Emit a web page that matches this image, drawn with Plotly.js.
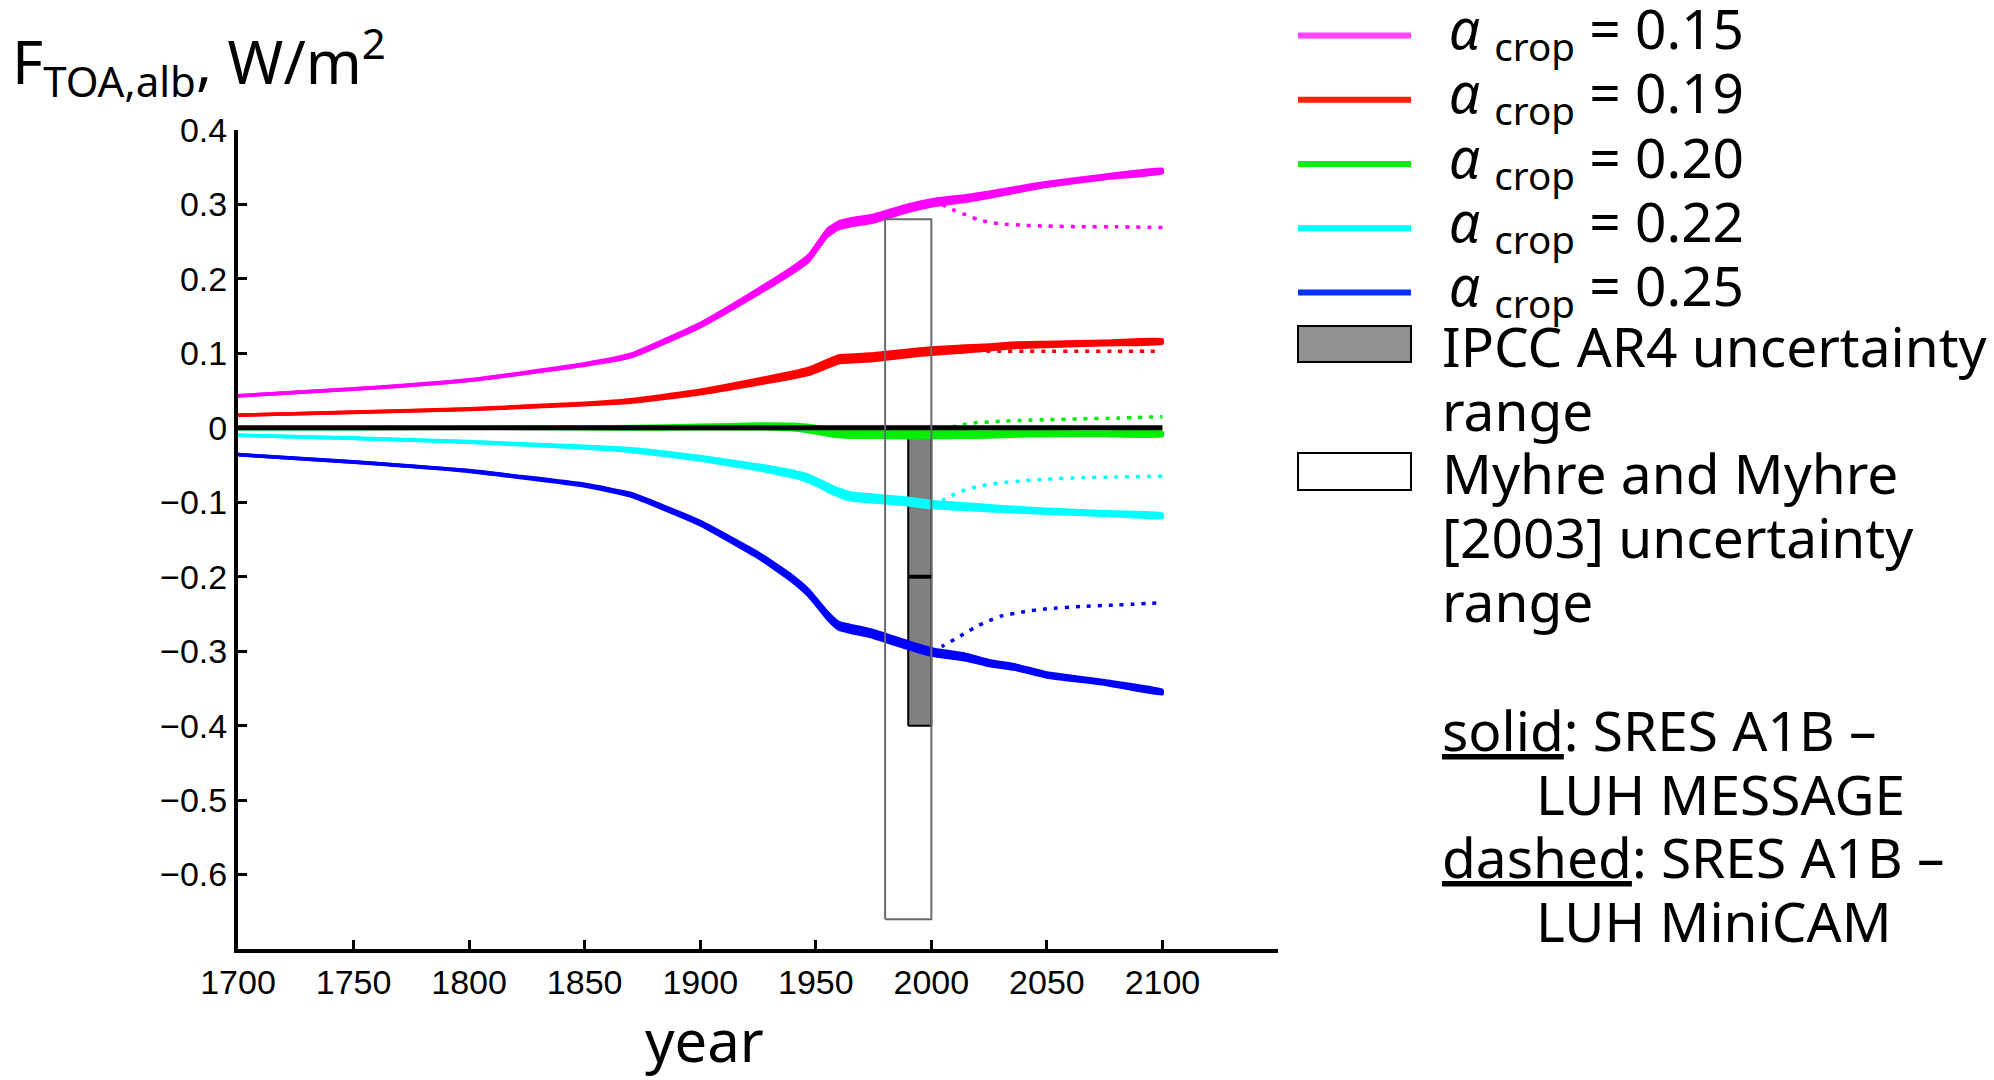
<!DOCTYPE html>
<html><head><meta charset="utf-8">
<script src="https://cdn.plot.ly/plotly-3.0.1.min.js"></script>
<style>html,body{margin:0;padding:0;background:#fff;}</style>
</head><body><div id="chart" style="width:1994px;height:1080px;"></div>
<script>
// ---------------- data ----------------
const solidYears = [1700, 1750, 1800, 1850, 1870, 1900, 1925, 1940, 1947, 1955, 1960, 1965, 1975, 1990, 2000, 2015, 2025, 2037, 2050, 2075, 2100];
const solid015 = [0.043, 0.052, 0.064, 0.085, 0.097, 0.138, 0.183, 0.212, 0.228, 0.262, 0.272, 0.276, 0.281, 0.295, 0.302, 0.308, 0.313, 0.320, 0.327, 0.337, 0.345];
const solid019 = [0.017, 0.021, 0.025, 0.032, 0.036, 0.048, 0.062, 0.071, 0.076, 0.086, 0.092, 0.093, 0.095, 0.100, 0.103, 0.106, 0.108, 0.111, 0.112, 0.114, 0.116];
const solid020 = [-0.001, -0.001, 0.000, 0.000, 0.000, 0.001, 0.002, 0.001, -0.001, -0.005, -0.007, -0.008, -0.008, -0.009, -0.009, -0.009, -0.009, -0.008, -0.008, -0.008, -0.008];
const solid022 = [-0.010, -0.014, -0.019, -0.026, -0.030, -0.041, -0.053, -0.062, -0.068, -0.080, -0.087, -0.092, -0.095, -0.099, -0.103, -0.106, -0.108, -0.110, -0.112, -0.115, -0.118];
const solid025 = [-0.036, -0.046, -0.058, -0.077, -0.090, -0.128, -0.171, -0.203, -0.222, -0.252, -0.266, -0.270, -0.277, -0.292, -0.301, -0.308, -0.316, -0.322, -0.332, -0.342, -0.355];
// half-spread of the ensemble of runs around each solid curve (W/m2)
const ensembleSpread = [0.0008, 0.001, 0.0012, 0.0018, 0.0024, 0.003, 0.0038, 0.0044, 0.0048, 0.0052, 0.0052, 0.0052, 0.0052, 0.005, 0.0048, 0.0044, 0.004, 0.0036, 0.0033, 0.003, 0.003];

const dashYears = [2000, 2005, 2010, 2015, 2020, 2025, 2030, 2040, 2050, 2065, 2080, 2100];
const dash015 = [0.302, 0.299, 0.292, 0.286, 0.280, 0.276, 0.274, 0.272, 0.271, 0.270, 0.270, 0.269];
const dash019 = [0.103, 0.103, 0.104, 0.104, 0.104, 0.103, 0.103, 0.103, 0.103, 0.103, 0.103, 0.103];
const dash020 = [-0.009, -0.004, 0.002, 0.005, 0.007, 0.008, 0.009, 0.010, 0.011, 0.012, 0.013, 0.015];
const dash022 = [-0.103, -0.097, -0.089, -0.083, -0.079, -0.076, -0.074, -0.071, -0.069, -0.067, -0.066, -0.065];
const dash025 = [-0.301, -0.293, -0.284, -0.275, -0.266, -0.259, -0.253, -0.247, -0.243, -0.240, -0.238, -0.235];

const zeroYears = [1700, 2100];
const zeroValues = [0, 0];

const ipccYears = [1990, 2000];
const ipccRange = [-0.4, 0.0];
const ipccBest = -0.2;
const myhreYears = [1980, 2000];
const myhreRange = [-0.66, 0.28];

const albedoLabels = ['0.15', '0.19', '0.20', '0.22', '0.25'];
const xTickVals = [1700, 1750, 1800, 1850, 1900, 1950, 2000, 2050, 2100];
const xTickText = ['1700', '1750', '1800', '1850', '1900', '1950', '2000', '2050', '2100'];
const yTickVals = [-0.6, -0.5, -0.4, -0.3, -0.2, -0.1, 0, 0.1, 0.2, 0.3, 0.4];
const yTickText = ['\u22120.6', '\u22120.5', '\u22120.4', '\u22120.3', '\u22120.2', '\u22120.1', '0', '0.1', '0.2', '0.3', '0.4'];

// ---------------- styles ----------------
const plotColors = ['#ff00ff', '#ff0000', '#00ee00', '#00ffff', '#0000ff'];
const legendColors = ['#ff44ff', '#ff2200', '#11ee11', '#00ffff', '#0033ff'];
const solidSeries = [solid015, solid019, solid020, solid022, solid025];
const dashSeries = [dash015, dash019, dash020, dash022, dash025];

const traces = [];
// IPCC fill (under the curves)
traces.push({
  x: [ipccYears[0], ipccYears[1], ipccYears[1], ipccYears[0], ipccYears[0]],
  y: [ipccRange[0], ipccRange[0], ipccRange[1], ipccRange[1], ipccRange[0]],
  mode: 'lines', fill: 'toself', fillcolor: '#808080',
  line: {color: '#000', width: 2}, hoverinfo: 'skip'
});
// solid ensembles: band of runs + central run
solidSeries.forEach((ys, i) => {
  const upper = ys.map((v, k) => v + ensembleSpread[k]);
  const lower = ys.map((v, k) => v - ensembleSpread[k]);
  traces.push({
    x: solidYears.concat(solidYears.slice().reverse()),
    y: upper.concat(lower.slice().reverse()),
    mode: 'lines', fill: 'toself', fillcolor: plotColors[i],
    line: {color: plotColors[i], width: 2.5, shape: 'spline', smoothing: 0.4}, hoverinfo: 'skip'
  });
  traces.push({
    x: solidYears, y: ys, mode: 'lines',
    line: {color: plotColors[i], width: 3.5, shape: 'spline', smoothing: 0.5}, hoverinfo: 'skip'
  });
});
dashSeries.forEach((ys, i) => {
  traces.push({
    x: dashYears, y: ys, mode: 'lines',
    line: {color: plotColors[i], width: 3.5, dash: '4px,7px', shape: 'spline', smoothing: 0.5}, hoverinfo: 'skip'
  });
});
traces.push({x: zeroYears, y: zeroValues, mode: 'lines', line: {color: '#000', width: 5}, hoverinfo: 'skip'});
// Myhre outline
traces.push({
  x: [myhreYears[0], myhreYears[1], myhreYears[1], myhreYears[0], myhreYears[0]],
  y: [myhreRange[0], myhreRange[0], myhreRange[1], myhreRange[1], myhreRange[0]],
  mode: 'lines', line: {color: '#6a6a6a', width: 2}, hoverinfo: 'skip'
});
// IPCC central estimate
traces.push({x: ipccYears, y: [ipccBest, ipccBest], mode: 'lines', line: {color: '#000', width: 4}, hoverinfo: 'skip'});

// ---------------- layout helpers ----------------
const L = 238, R = 1278, T = 130, B = 949;
const W = R - L, H = B - T;
const px = x => (x - L) / W;
const py = y => (B - y) / H;
const NOTO_ASC = 1.069;

const shapes = [];
const annotations = [];
const textFont = 'Noto Sans, sans-serif';
function textAt(text, x, baseline, size, anchor, extraTop) {
  const top = baseline - NOTO_ASC * size - (extraTop || 0);
  annotations.push({
    xref: 'paper', yref: 'paper', x: px(x), y: py(top), xanchor: anchor || 'left', yanchor: 'top',
    text: text, showarrow: false, borderpad: 0, align: 'left',
    font: {family: textFont, size: size, color: '#000'}
  });
}

// legend
const rowY0 = 35.6, rowStep = 64.2;
albedoLabels.forEach((lab, i) => {
  const y = rowY0 + i * rowStep;
  shapes.push({type: 'line', xref: 'paper', yref: 'paper', x0: px(1298), x1: px(1411), y0: py(y), y1: py(y),
    line: {color: legendColors[i], width: 6}});
  textAt('<i>\u03b1</i> <sub>crop</sub> = ' + lab, 1448, 48 + i * rowStep, 55);
});
shapes.push({type: 'rect', xref: 'paper', yref: 'paper', x0: px(1298), x1: px(1411), y0: py(362), y1: py(326),
  fillcolor: '#919191', line: {color: '#000', width: 2}});
shapes.push({type: 'rect', xref: 'paper', yref: 'paper', x0: px(1298), x1: px(1411), y0: py(490), y1: py(453),
  fillcolor: '#fff', line: {color: '#000', width: 2}});
textAt('IPCC AR4 uncertainty', 1441, 366, 55);
textAt('range', 1441, 430, 55);
textAt('Myhre and Myhre', 1441, 493, 55);
textAt('[2003] uncertainty', 1441, 557, 55);
textAt('range', 1441, 621, 55);
textAt('<u>solid</u>: SRES A1B \u2013', 1441, 750, 55);
textAt('LUH MESSAGE', 1535, 814, 55);
textAt('<u>dashed</u>: SRES A1B \u2013', 1441, 877, 55);
textAt('LUH MiniCAM', 1535, 941, 55);

// axis titles
textAt('F<sub>TOA,alb</sub>, W/m<sup>2</sup>', 11, 83, 60, 'left', 0.1 * 60);
textAt('year', 704, 1061, 58, 'center');

const layout = {
  width: 1994, height: 1080,
  margin: {l: L, r: 1994 - R, t: T, b: 1080 - B, pad: 0},
  paper_bgcolor: '#fff', plot_bgcolor: '#fff',
  showlegend: false,
  xaxis: {
    range: [1700, 2150], showgrid: false, zeroline: false,
    showline: true, linecolor: '#000', linewidth: 4,
    ticks: 'inside', ticklen: 9, tickwidth: 3, tickcolor: '#000',
    tickvals: xTickVals, ticktext: xTickText,
    tickfont: {family: 'Liberation Sans, Arial, sans-serif', size: 34, color: '#000'}
  },
  yaxis: {
    range: [-0.7, 0.4], showgrid: false, zeroline: false,
    showline: true, linecolor: '#000', linewidth: 4,
    ticks: 'inside', ticklen: 9, tickwidth: 3, tickcolor: '#000',
    tickvals: yTickVals, ticktext: yTickText,
    tickfont: {family: 'Liberation Sans, Arial, sans-serif', size: 34, color: '#000'}
  },
  shapes: shapes,
  annotations: annotations
};

Plotly.newPlot('chart', traces, layout, {staticPlot: true, displayModeBar: false});
</script>
</body></html>
